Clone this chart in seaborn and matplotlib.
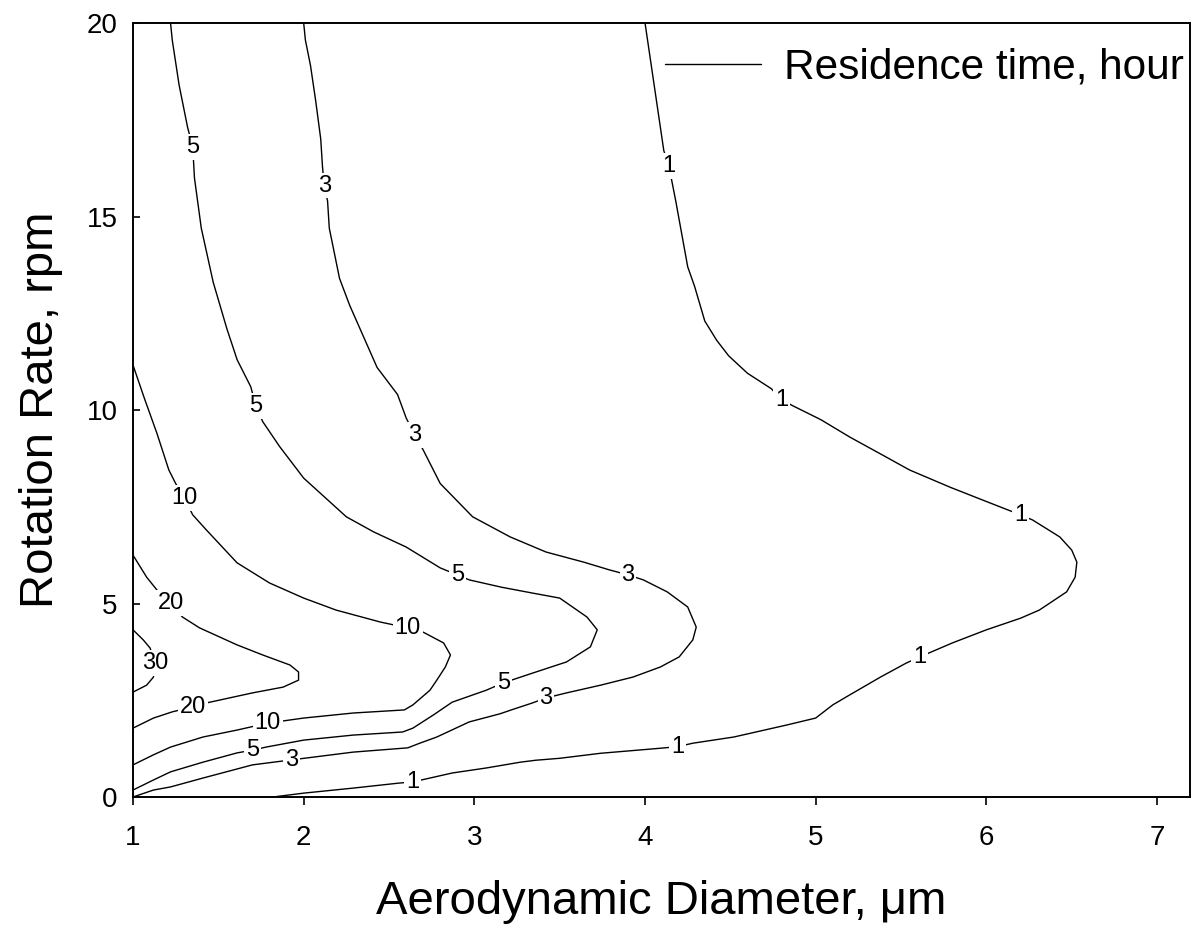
import numpy as np
import pandas as pd
import matplotlib
matplotlib.use("Agg")
import matplotlib.pyplot as plt
from matplotlib.lines import Line2D
import seaborn as sns

# ---- data (diameter in um, rotation rate in rpm) ----
levels = [1, 3, 5, 10, 20, 30]

lvl1_d = [4.00, 4.11, 4.14, 4.18, 4.25, 4.29, 4.35, 4.42, 4.49, 4.60, 4.74, 4.80, 4.87,
          5.03, 5.20, 5.39, 5.55, 5.79, 5.98, 6.20, 6.27, 6.43, 6.50, 6.53, 6.52, 6.47,
          6.31, 6.20, 6.00, 5.80, 5.61, 5.53, 5.38, 5.20, 5.10, 5.00, 4.83, 4.52, 4.28,
          4.19, 4.09, 3.74, 3.50, 3.36, 3.27, 3.07, 2.87, 2.64, 2.56, 2.29, 2.00, 1.82]
lvl1_r = [20.0, 16.7, 16.3, 15.4, 13.7, 13.2, 12.3, 11.8, 11.4, 10.95, 10.55, 10.26, 10.1,
          9.75, 9.3, 8.84, 8.45, 8.0, 7.67, 7.29, 7.16, 6.72, 6.38, 6.07, 5.68, 5.30,
          4.83, 4.62, 4.32, 3.98, 3.62, 3.46, 3.10, 2.64, 2.38, 2.04, 1.86, 1.55, 1.39,
          1.30, 1.26, 1.13, 1.00, 0.95, 0.90, 0.75, 0.62, 0.39, 0.36, 0.23, 0.10, 0.0]

lvl3_d = [2.00, 2.01, 2.04, 2.07, 2.10, 2.11, 2.12, 2.14, 2.15, 2.21, 2.27, 2.35, 2.43,
          2.55, 2.60, 2.65, 2.70, 2.80, 2.99, 3.21, 3.42, 3.64, 3.79, 3.90, 3.99, 4.13,
          4.25, 4.30, 4.28, 4.20, 4.09, 3.93, 3.74, 3.54, 3.42, 3.34, 3.23, 3.15, 2.97,
          2.78, 2.68, 2.61, 2.29, 1.93, 1.70, 1.41, 1.22, 1.12, 1.00]
lvl3_r = [20.0, 19.56, 18.9, 18.0, 17.0, 16.3, 15.8, 15.4, 14.7, 13.4, 12.7, 11.9, 11.1,
          10.4, 9.8, 9.35, 8.97, 8.1, 7.24, 6.72, 6.33, 6.07, 5.87, 5.74, 5.61, 5.30,
          4.91, 4.39, 4.06, 3.62, 3.36, 3.10, 2.89, 2.69, 2.56, 2.43, 2.27, 2.15, 1.94,
          1.55, 1.39, 1.27, 1.16, 0.96, 0.83, 0.49, 0.26, 0.18, 0.0]

lvl5_d = [1.22, 1.23, 1.27, 1.32, 1.35, 1.36, 1.40, 1.47, 1.55, 1.61, 1.69, 1.72, 1.76,
          1.86, 2.00, 2.25, 2.41, 2.60, 2.80, 2.90, 2.97, 3.16, 3.34, 3.50, 3.66, 3.72,
          3.68, 3.54, 3.34, 3.17, 3.07, 2.87, 2.76, 2.64, 2.58, 2.29, 2.00, 1.78, 1.70,
          1.61, 1.41, 1.22, 1.12, 1.00]
lvl5_r = [20.0, 19.56, 18.4, 17.3, 16.8, 16.0, 14.7, 13.3, 12.1, 11.3, 10.6, 10.1, 9.7,
          9.05, 8.24, 7.24, 6.85, 6.46, 5.92, 5.74, 5.61, 5.42, 5.27, 5.14, 4.65, 4.32,
          3.88, 3.49, 3.20, 2.95, 2.76, 2.45, 2.12, 1.78, 1.68, 1.60, 1.47, 1.29, 1.21,
          1.14, 0.90, 0.65, 0.44, 0.18]

lvl10_d = [1.00, 1.07, 1.14, 1.21, 1.25, 1.30, 1.35, 1.43, 1.61, 1.80, 2.00, 2.19, 2.45,
           2.61, 2.70, 2.82, 2.86, 2.83, 2.78, 2.74, 2.64, 2.59, 2.29, 2.00, 1.79, 1.61,
           1.41, 1.22, 1.12, 1.00]
lvl10_r = [11.16, 10.26, 9.4, 8.45, 8.1, 7.73, 7.29, 6.9, 6.05, 5.53, 5.14, 4.83, 4.52,
           4.37, 4.26, 3.98, 3.67, 3.36, 3.02, 2.76, 2.38, 2.25, 2.17, 2.04, 1.91, 1.73,
           1.55, 1.29, 1.09, 0.83]

lvl20_d = [1.00, 1.08, 1.14, 1.22, 1.29, 1.39, 1.61, 1.76, 1.92, 1.97, 1.97, 1.88, 1.70,
           1.43, 1.35, 1.23, 1.12, 1.00]
lvl20_r = [6.25, 5.68, 5.35, 5.01, 4.65, 4.37, 3.93, 3.67, 3.41, 3.23, 3.02, 2.84, 2.69,
           2.43, 2.33, 2.20, 2.04, 1.78]

lvl30_d = [1.00, 1.06, 1.10, 1.13, 1.12, 1.08, 1.00]
lvl30_r = [4.32, 4.06, 3.85, 3.46, 3.10, 2.89, 2.71]

# contour label positions (diameter, rpm, text)
label_d = [4.14, 4.80, 6.20, 5.61, 4.19, 2.64,
           2.12, 2.65, 3.90, 3.42, 1.93,
           1.35, 1.72, 2.90, 3.17, 1.70,
           1.30, 2.61, 1.79,
           1.22, 1.35,
           1.13]
label_r = [16.3, 10.26, 7.29, 3.62, 1.30, 0.39,
           15.8, 9.35, 5.74, 2.56, 0.96,
           16.8, 10.1, 5.74, 2.95, 1.21,
           7.73, 4.37, 1.91,
           5.01, 2.33,
           3.46]
label_txt = ["1", "1", "1", "1", "1", "1",
             "3", "3", "3", "3", "3",
             "5", "5", "5", "5", "5",
             "10", "10", "10",
             "20", "20",
             "30"]

x_ticks = [1, 2, 3, 4, 5, 6, 7]
y_ticks = [0, 5, 10, 15, 20]

# ---- build long-form table ----
curves = {1: (lvl1_d, lvl1_r), 3: (lvl3_d, lvl3_r), 5: (lvl5_d, lvl5_r),
          10: (lvl10_d, lvl10_r), 20: (lvl20_d, lvl20_r), 30: (lvl30_d, lvl30_r)}
rows = []
for lv in levels:
    ds, rs = curves[lv]
    for i, (d, r) in enumerate(zip(ds, rs)):
        rows.append({"diameter": d, "rpm": r, "level": lv, "order": i})
df = pd.DataFrame(rows)

sns.set_style("ticks")
plt.rcParams["font.family"] = ["Liberation Sans", "DejaVu Sans"]
plt.rcParams["text.color"] = "black"
plt.rcParams["axes.labelcolor"] = "black"
plt.rcParams["xtick.color"] = "black"
plt.rcParams["ytick.color"] = "black"

fig = plt.figure(figsize=(11.91, 9.41), dpi=100)
ax = fig.add_axes([133 / 1191, 1 - 797 / 941, (1189.5 - 133) / 1191, (797 - 23) / 941])

sns.lineplot(data=df, x="diameter", y="rpm", units="level", estimator=None,
             sort=False, color="black", linewidth=1.0, legend=False, ax=ax)

for d, r, t in zip(label_d, label_r, label_txt):
    ax.text(d, r, t, fontsize=17, ha="center", va="center", zorder=5, color="black",
            bbox=dict(boxstyle="square,pad=0.08", fc="white", ec="none"))

ax.set_xlim(1, 7.19)
ax.set_ylim(0, 20)
ax.set_xticks(x_ticks)
ax.set_yticks(y_ticks)
ax.tick_params(axis="x", direction="out", length=6, width=1.2, pad=14,
               labelsize=20, colors="black")
ax.tick_params(axis="y", direction="in", length=5, width=1.2, pad=11,
               labelsize=20, colors="black")
for sp in ax.spines.values():
    sp.set_visible(True)
    sp.set_linewidth(1.4)
    sp.set_color("black")

ax.set_xlabel("Aerodynamic Diameter, \u03bcm", fontsize=34, labelpad=21, color="black")
ax.set_ylabel("Rotation Rate, rpm", fontsize=34, labelpad=17, color="black")

handle = Line2D([], [], color="black", linewidth=1.0)
ax.legend([handle], ["Residence time, hour"], loc="center right",
          bbox_to_anchor=(1184 / 1191, 1 - 68 / 941), bbox_transform=fig.transFigure,
          frameon=False, fontsize=30.5, handlelength=2.26, handletextpad=0.55,
          borderpad=0, borderaxespad=0, labelcolor="black")

fig.savefig("out.png", dpi=100)
